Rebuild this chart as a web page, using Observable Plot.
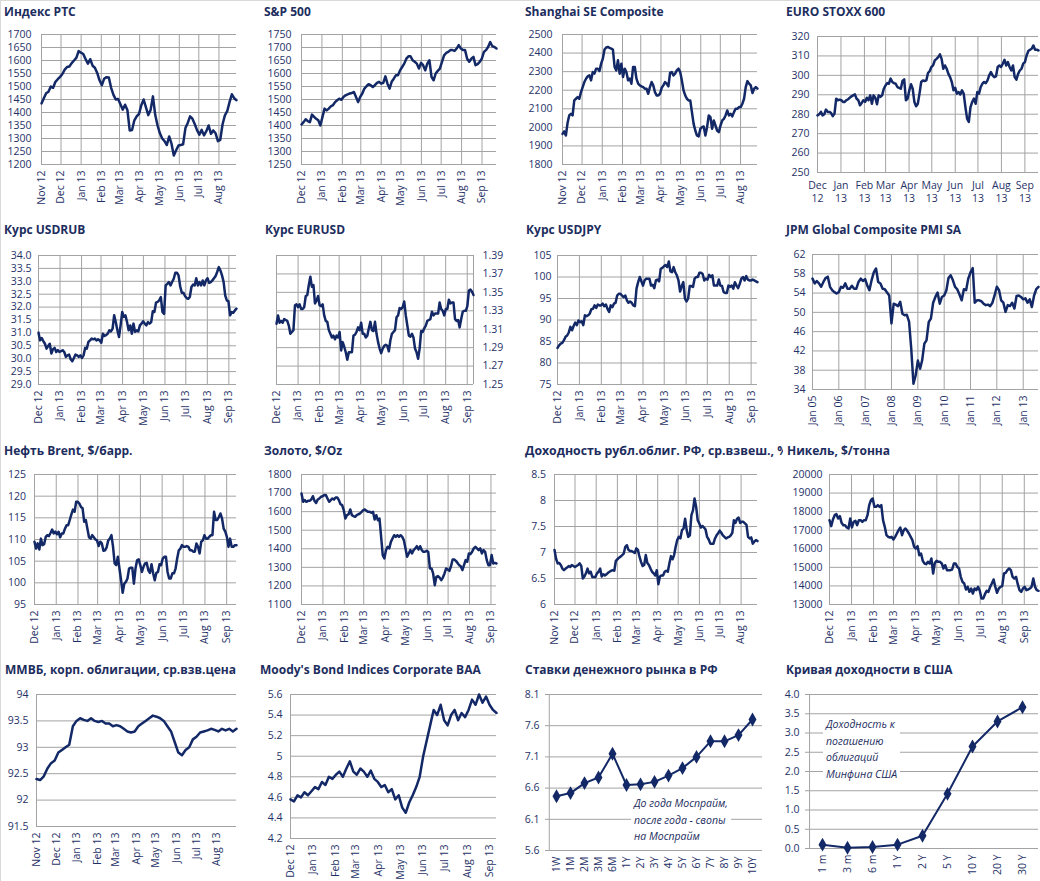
<!DOCTYPE html>
<html><head><meta charset="utf-8">
<script src="https://cdn.jsdelivr.net/npm/d3@7"></script>
<script src="https://cdn.jsdelivr.net/npm/@observablehq/plot@0.6"></script>
<style>
html,body{margin:0;padding:0;background:#fff;}
#root{position:relative;width:1040px;height:881px;overflow:hidden;background:#fff;box-shadow:inset 1px 1px 0 #d9d9d9;}
.title{position:absolute;font:bold 12px "Open Sans",sans-serif;line-height:16px;color:#1c2d5e;white-space:nowrap;background:#fff;}
.note{position:absolute;font:italic 10.5px "Open Sans",sans-serif;color:#1c2d5e;background:#fff;line-height:16.5px;white-space:nowrap;padding:0 3px;}
svg{overflow:visible;}
</style></head><body><div id="root"></div><script>
// ---------------- DATA ----------------
const rtsValues=[1435,1455,1474,1480,1500,1495,1518,1528,1537,1548,1565,1575,1577,1590,1600,1610,1636,1630,1625,1605,1588,1605,1580,1572,1552,1524,1505,1530,1536,1535,1495,1468,1450,1452,1432,1411,1430,1410,1331,1333,1370,1385,1395,1428,1450,1420,1390,1410,1462,1390,1350,1320,1300,1290,1275,1308,1280,1235,1255,1273,1275,1278,1340,1360,1385,1376,1356,1332,1315,1333,1312,1328,1350,1318,1331,1320,1290,1295,1355,1389,1405,1440,1470,1455,1447];
const spxValues=[1404,1413,1424,1417,1413,1442,1433,1426,1420,1400,1433,1465,1458,1465,1474,1478,1490,1497,1503,1499,1510,1516,1520,1523,1525,1529,1510,1490,1510,1523,1542,1551,1559,1555,1548,1555,1564,1568,1561,1564,1589,1561,1542,1568,1580,1593,1593,1612,1625,1638,1657,1666,1666,1651,1645,1638,1619,1641,1632,1612,1638,1651,1587,1574,1600,1610,1619,1645,1670,1679,1683,1690,1690,1687,1696,1709,1696,1690,1690,1657,1645,1657,1664,1632,1636,1645,1657,1683,1690,1702,1721,1705,1702,1696];
const shValues=[1965,1978,1956,2023,2064,2073,2064,2145,2154,2163,2154,2190,2217,2244,2262,2275,2280,2253,2298,2289,2316,2316,2304,2343,2370,2419,2430,2433,2428,2424,2419,2325,2307,2361,2289,2343,2271,2316,2298,2253,2262,2235,2325,2325,2262,2235,2226,2221,2217,2208,2208,2181,2217,2244,2226,2190,2172,2172,2181,2213,2226,2244,2235,2221,2293,2298,2280,2289,2307,2316,2298,2253,2199,2172,2154,2145,2145,2082,2019,1983,1956,1951,1992,2001,2005,1956,2001,2064,2055,1992,2037,2010,1983,1974,2010,2037,2046,2064,2091,2064,2073,2059,2082,2100,2100,2109,2109,2127,2154,2217,2249,2235,2226,2185,2208,2217,2208];
const stoxxValues=[279.4,280,281.2,279.4,280,282.4,281.2,281.2,280.6,279,280.3,288,287.2,287.5,287.2,286.3,286.3,287.2,287.7,288.5,289.2,289.7,290.2,288,287.2,284.6,285.8,287.2,286.3,288.5,287.2,289.7,285.4,289.7,288.5,285.1,289.7,288.9,289.7,293.1,294.8,296,295.7,298.3,296.6,296,295.7,294,293.6,293.1,297.1,297.9,287.2,288,292.3,295.4,293.1,286.3,284.1,285.4,290.6,296.6,297.4,297.1,297.4,301.2,302.2,304.3,305.1,307.7,308.5,309.4,310.8,308.5,303.4,305.1,303.4,300.8,299.1,296.6,292.3,293.6,290.6,291.4,290.2,292.3,290.6,283.7,277.7,276,283.7,286.3,288,285.4,291.4,290.6,294,295.7,296.6,296,297.4,300,301.7,300,299.1,299.5,304.3,305.1,304.3,306,308,305.1,306.8,304.3,302.5,305.1,299.1,297.8,300.8,302.5,303.4,306,306.8,310.2,312.5,313.2,313.7,315.4,313.2,313.2,312.8];
const usdrubValues=[31.01,30.71,30.80,30.68,30.58,30.39,30.49,30.58,30.20,30.37,30.42,30.26,30.33,30.26,30.29,30.33,30.26,30.07,30.13,30.16,29.98,29.90,30.03,30.16,30.13,30.07,30.13,30.03,30.13,30.42,30.39,30.65,30.71,30.78,30.75,30.78,30.71,30.75,30.71,30.62,30.97,30.88,30.91,30.97,31.10,31.06,31.16,31.68,31.42,31.10,30.84,31.29,31.81,31.62,31.68,31.42,31.10,31.29,30.97,31.36,31.04,31.10,31.06,31.29,31.36,31.45,31.36,31.29,31.42,31.36,31.42,31.84,31.81,32.17,32.20,32.26,32.39,31.81,31.74,32.84,32.90,32.97,32.84,32.97,33.10,33.33,33.33,33.23,32.81,32.56,32.56,32.43,32.35,32.32,32.39,32.78,32.87,32.84,33.12,32.84,32.97,32.84,33.03,32.84,33.03,33.12,32.94,32.97,33.03,33.12,33.20,33.36,33.55,33.42,33.23,32.97,32.45,32.26,32.22,31.68,31.81,31.78,31.87,31.94];
const eurusdValues=[1.316,1.325,1.317,1.319,1.317,1.321,1.320,1.319,1.314,1.305,1.307,1.309,1.336,1.337,1.334,1.337,1.332,1.332,1.334,1.346,1.347,1.358,1.367,1.356,1.358,1.338,1.341,1.346,1.336,1.335,1.337,1.325,1.319,1.318,1.309,1.305,1.301,1.303,1.299,1.303,1.301,1.307,1.287,1.296,1.291,1.285,1.277,1.285,1.285,1.285,1.303,1.304,1.307,1.312,1.309,1.317,1.305,1.305,1.301,1.303,1.311,1.318,1.309,1.308,1.318,1.305,1.296,1.289,1.284,1.289,1.292,1.293,1.292,1.286,1.298,1.305,1.307,1.309,1.323,1.325,1.333,1.332,1.334,1.340,1.325,1.314,1.303,1.302,1.305,1.301,1.289,1.285,1.278,1.289,1.308,1.307,1.311,1.314,1.319,1.320,1.321,1.329,1.325,1.327,1.327,1.327,1.339,1.332,1.330,1.325,1.332,1.332,1.342,1.338,1.339,1.339,1.321,1.319,1.320,1.312,1.321,1.329,1.330,1.330,1.335,1.352,1.353,1.351,1.347];
const usdjpyValues=[83.5,84.1,84.5,84.7,85.3,86.1,86.4,87.1,88.4,87.6,88.6,89.4,88.8,89.9,89.5,89.7,88.8,91.1,90.9,91.1,91.5,92.5,92.6,93.4,92.8,93.6,93.4,93.4,93.8,93.2,93.6,92.6,91.9,93.4,93.0,93.8,94.0,95.7,96.1,96.1,95.7,95.3,95.7,94.6,94.0,94.3,94.0,93.4,93.2,97.3,98.8,100.0,99.0,98.0,99.2,99.6,99.6,99.6,98.0,98.2,97.4,99.2,99.4,99.0,101.9,102.1,102.5,102.8,102.3,103.6,101.3,101.1,102.3,101.1,100.4,99.2,96.6,97.9,98.8,95.0,94.3,95.0,97.9,97.9,97.7,99.6,100.0,100.0,101.0,101.0,100.7,99.2,99.6,99.4,100.5,100.0,100.4,98.0,98.0,98.0,99.4,98.0,97.9,96.5,96.3,96.3,98.0,97.7,98.0,97.3,98.8,98.0,97.4,98.4,99.6,100.0,99.2,100.2,99.4,99.2,99.2,99.4,99.2,99.0,98.8];
const pmiValues=[57.0,56.0,56.5,56.0,55.3,56.3,57.1,57.4,55.3,54.6,54.2,53.9,
54.2,55.3,55.1,56.0,54.9,54.9,55.5,54.9,54.9,56.3,57.0,56.5,
56.9,55.5,54.6,56.7,58.3,59.1,56.3,56.0,54.9,54.8,54.1,53.5,
47.7,51.8,51.6,51.3,52.2,49.7,49.4,49.5,48.1,42.5,35.2,36.9,
40.0,38.3,40.0,43.5,44.2,48.0,48.7,52.0,53.2,54.1,51.8,53.2,
53.5,54.6,57.1,57.7,56.7,55.3,54.8,53.7,52.5,54.8,54.6,57.0,
58.3,59.2,52.0,52.5,52.5,52.3,51.8,51.5,51.6,51.3,52.0,53.5,
55.3,54.6,52.5,52.0,50.1,51.5,51.3,52.0,50.8,53.4,53.5,53.2,
52.7,52.9,52.0,52.7,51.1,53.5,54.8,55.3];
const brentValues=[109.5,107.9,109.1,107.7,110.2,108.7,108.9,110.6,111.0,110.8,111.5,112.3,111.4,111.8,111.2,111.8,110.5,111.4,111.4,112.5,113.3,113.3,114.5,115.8,116.9,116.4,118.7,118.7,118.3,117.5,117.2,114.1,114.5,112.5,110.5,110.2,111.0,110.5,110.0,109.8,108.5,109.5,109.1,107.4,107.5,108.2,109.8,110.2,111.0,108.3,104.5,104.1,106.0,103.3,100.6,97.7,99.8,100.2,101.0,103.3,103.5,103.5,99.8,103.3,105.2,105.4,104.1,102.5,103.7,104.5,104.6,102.9,102.3,104.3,102.2,100.6,102.3,102.5,104.3,104.1,105.6,106.0,106.0,102.5,101.0,101.0,102.2,102.2,103.3,105.6,107.5,107.9,108.7,108.3,108.3,108.5,108.3,107.5,107.5,107.2,107.2,109.1,108.3,106.8,109.5,109.8,111.0,110.2,110.2,110.6,111.0,111.0,116.4,114.5,114.5,115.2,116.0,114.8,112.5,111.8,110.6,108.3,110.2,108.3,108.3,108.7,108.7];
const goldValues=[1698,1653,1662,1653,1658,1658,1665,1683,1658,1647,1665,1671,1680,1683,1689,1689,1671,1653,1662,1671,1665,1676,1676,1662,1640,1635,1608,1563,1581,1586,1612,1581,1576,1572,1581,1586,1590,1599,1608,1612,1604,1599,1599,1594,1599,1558,1581,1554,1563,1464,1366,1348,1393,1410,1402,1437,1455,1473,1464,1473,1464,1473,1464,1446,1402,1357,1375,1393,1375,1393,1402,1414,1396,1414,1393,1384,1384,1389,1384,1294,1294,1267,1204,1249,1253,1245,1231,1245,1267,1294,1288,1281,1306,1342,1342,1335,1324,1312,1306,1285,1312,1339,1330,1375,1371,1384,1402,1410,1402,1393,1402,1375,1393,1384,1339,1312,1312,1366,1321,1324,1321];
const ofzValues=[7.05,6.88,6.79,6.80,6.76,6.69,6.66,6.69,6.71,6.74,6.72,6.76,6.74,6.72,6.74,6.76,6.79,6.74,6.50,6.54,6.60,6.69,6.60,6.63,6.53,6.53,6.53,6.60,6.63,6.69,6.54,6.58,6.56,6.58,6.61,6.63,6.65,6.66,6.65,6.84,6.87,6.90,6.92,6.95,6.98,7.11,7.14,7.05,7.03,7.03,7.01,6.99,7.08,7.05,6.92,6.82,6.74,6.76,6.95,6.80,6.76,6.69,6.63,6.60,6.56,6.66,6.39,6.54,6.56,6.56,6.63,6.65,6.63,6.79,6.93,6.87,6.95,7.11,7.24,7.30,7.27,7.43,7.46,7.65,7.43,7.30,7.33,7.72,7.81,8.04,7.88,7.62,7.56,7.48,7.51,7.48,7.44,7.30,7.25,7.17,7.17,7.17,7.27,7.33,7.37,7.42,7.38,7.33,7.30,7.27,7.29,7.30,7.33,7.38,7.62,7.57,7.65,7.67,7.57,7.59,7.59,7.56,7.53,7.30,7.27,7.29,7.17,7.21,7.24,7.22];
const nickelValues=[17541,17218,17577,17810,17864,17631,17756,17397,17272,17272,17146,17092,17631,17146,17451,17505,17272,17541,17541,17451,17541,17541,17810,18349,18618,18708,18259,18259,18349,18259,18349,17541,17182,16733,16643,16607,16643,16500,16643,16822,17002,17146,16733,17002,17092,16966,16822,16643,16464,16105,16015,16141,15656,15746,15351,15207,15171,15297,15207,15477,14669,15243,15351,15297,15297,15207,14938,15117,14848,14848,14848,14884,15207,15207,15028,14938,14489,14220,14130,13807,13951,13682,13861,13592,13861,13772,13951,13736,13323,13323,13556,13736,13682,13951,14130,14346,13951,13628,13861,13951,13987,14669,14705,14848,14938,14848,14489,14399,14489,14094,13772,13682,13861,13951,13772,13807,13861,13951,14399,13951,13772,13736];
const micexBondValues=[92.4,92.38,92.45,92.6,92.7,92.75,92.9,92.95,93.0,93.05,93.4,93.5,93.55,93.52,93.5,93.55,93.5,93.48,93.5,93.45,93.45,93.4,93.42,93.4,93.35,93.3,93.28,93.3,93.4,93.45,93.5,93.55,93.6,93.58,93.55,93.5,93.4,93.3,93.1,92.9,92.85,92.95,93.0,93.15,93.2,93.28,93.3,93.32,93.35,93.33,93.3,93.35,93.32,93.35,93.3,93.35];
const baaValues=[4.58,4.56,4.62,4.60,4.65,4.62,4.66,4.70,4.68,4.75,4.72,4.80,4.78,4.82,4.85,4.80,4.88,4.95,4.85,4.82,4.88,4.85,4.80,4.86,4.78,4.75,4.70,4.72,4.65,4.68,4.58,4.62,4.50,4.45,4.55,4.62,4.70,4.80,5.00,5.15,5.30,5.45,5.40,5.50,5.35,5.30,5.40,5.45,5.35,5.42,5.38,5.45,5.55,5.50,5.60,5.52,5.58,5.50,5.45,5.42];
const mmTenors=["1W","1M","2M","3M","6M","1Y","2Y","3Y","4Y","5Y","6Y","7Y","8Y","9Y","10Y"];
const mmRates=[6.47,6.52,6.68,6.77,7.15,6.65,6.66,6.70,6.80,6.92,7.10,7.35,7.35,7.45,7.70];
const ustTenors=["1 m","3 m","6 m","1 Y","2 Y","5 Y","10 Y","20 Y","30 Y"];
const ustYields=[0.10,0.02,0.04,0.10,0.33,1.42,2.65,3.30,3.67];

// tick labels
const rtsTicks=d3.range(1200,1701,50), spxTicks=d3.range(1250,1751,50), shTicks=d3.range(1800,2501,100), stoxxTicks=d3.range(250,321,10);
const usdrubTicks=[29,29.5,30,30.5,31,31.5,32,32.5,33,33.5,34], eurusdTicks=[1.25,1.27,1.29,1.31,1.33,1.35,1.37,1.39], usdjpyTicks=[75,80,85,90,95,100,105];
const pmiTicks=[34,38,42,46,50,54,58,62], brentTicks=[95,100,105,110,115,120,125], goldTicks=d3.range(1100,1801,100);
const ofzTicks=[6,6.5,7,7.5,8,8.5], nickelTicks=d3.range(13000,20001,1000), micexTicks=[91.5,92,92.5,93,93.5,94];
const baaTicks=[4.2,4.4,4.6,4.8,5,5.2,5.4,5.6], mmTicks=[5.6,6.1,6.6,7.1,7.6,8.1], ustTicks=[0,0.5,1,1.5,2,2.5,3,3.5,4];

// ---------------- DRAWING ----------------
const NAVY="#132866", TXT="#1f3267", GRID="#a3a3a3", FONT="'Open Sans',sans-serif";
const root=document.getElementById("root");
const utc=s=>{const [y,m,d]=s.split("-").map(Number);return new Date(Date.UTC(y,m-1,d));};
function series(p){
  const a=utc(p.start), n=p.values.length;
  if(p.monthly) return p.values.map((v,i)=>({date:d3.utcMonth.offset(a,i),value:v}));
  const b=utc(p.end);
  return p.values.map((v,i)=>({date:new Date(+a+(b-a)*i/(n-1)),value:v}));
}
function place(el,x,y){el.style.position="absolute";el.style.left=x+"px";el.style.top=y+"px";root.appendChild(el);}
function addTitle(text,x,y,extra){const d=document.createElement("div");d.className="title";d.textContent=text;d.style.left=x+"px";d.style.top=y+"px";if(extra)Object.assign(d.style,extra);root.appendChild(d);}
function addNote(lines,x,y){const d=document.createElement("div");d.className="note";d.innerHTML=lines.join("<br>");d.style.left=x+"px";d.style.top=y+"px";root.appendChild(d);}

function tsPanel(p){
  const data=series(p);
  const x0=utc(p.start), x1=p.monthly?d3.utcMonth.offset(x0,p.values.length-1):utc(p.end);
  const ticks=(p.yearly?d3.utcYear:d3.utcMonth).range(x0,new Date(+x1+1));
  const fmt=p.twoLine?(d=>d3.utcFormat("%b")(d)+"\n"+d3.utcFormat("%y")(d)):d3.utcFormat("%b %y");
  const H=p.h||215;
  const marks=[
    Plot.gridY(p.yTicks,{stroke:GRID,strokeOpacity:1,strokeWidth:1}),
    p.grid===false?null:Plot.gridX(ticks,{stroke:GRID,strokeOpacity:1,strokeWidth:1}),
    p.grid===false?Plot.ruleX([x0],{stroke:GRID}):null,
    p.grid===false?Plot.ruleY([p.yDomain[0]],{stroke:GRID}):null,
    p.yAnchor==="right"?Plot.ruleX([x1],{stroke:GRID}):null,
    Plot.lineY(data,{x:"date",y:"value",stroke:NAVY,strokeWidth:2.5,strokeLinejoin:"round"}),
    Plot.axisY(p.yTicks,{anchor:p.yAnchor||"left",tickSize:0,tickPadding:p.yPad,tickFormat:p.yFormat||(d=>String(d)),fontSize:10.5,fill:TXT,label:null}),
    p.twoLine
      ?Plot.axisX(ticks,{tickSize:0,tickPadding:7,tickFormat:fmt,fontSize:10.5,fill:TXT,label:null,lineHeight:1.25})
      :Plot.axisX(ticks,{tickRotate:-90,tickSize:0,tickPadding:6,tickFormat:fmt,fontSize:10.5,fill:TXT,label:null})
  ].filter(Boolean);
  const svg=Plot.plot({width:260,height:H,marginLeft:p.m[0],marginRight:p.m[1],marginTop:p.m[2],marginBottom:p.m[3],
    x:{type:"utc",domain:[x0,x1],label:null},y:{domain:p.yDomain,label:null},
    style:{background:"transparent",fontFamily:FONT,color:TXT,overflow:"visible"},marks});
  place(svg,p.x,p.y);
}
function catPanel(p){
  const data=p.cats.map((c,i)=>({cat:c,value:p.values[i]}));
  const H=p.h||226;
  const marks=[
    Plot.gridY(p.yTicks,{stroke:GRID,strokeOpacity:1}),
    Plot.ruleX([p.cats[0]],{stroke:GRID,dx:-p.band/2}),
    Plot.lineY(data,{x:"cat",y:"value",stroke:NAVY,strokeWidth:2}),
    Plot.dot(data,{x:"cat",y:"value",symbol:"diamond",r:4.2,fill:NAVY}),
    Plot.axisY(p.yTicks,{tickSize:0,tickPadding:p.yPad,tickFormat:p.yFormat,fontSize:10.5,fill:TXT,label:null}),
    Plot.axisX(p.cats,{tickRotate:-90,tickSize:0,tickPadding:6,fontSize:10.5,fill:TXT,label:null})
  ];
  const svg=Plot.plot({width:260,height:H,marginLeft:p.m[0],marginRight:p.m[1],marginTop:p.m[2],marginBottom:p.m[3],
    x:{type:"point",domain:p.cats,padding:0.5,label:null},y:{domain:p.yDomain,label:null},
    style:{background:"transparent",fontFamily:FONT,color:TXT,overflow:"visible"},marks});
  place(svg,p.x,p.y);
}

// Row 1
tsPanel({x:0,y:0,start:"2012-11-01",end:"2013-08-28",values:rtsValues,yDomain:[1200,1700],yTicks:rtsTicks,m:[41,24,34,51],yPad:10});
tsPanel({x:260,y:0,start:"2012-12-01",end:"2013-09-23",values:spxValues,yDomain:[1250,1750],yTicks:spxTicks,m:[41,24,34,51],yPad:10});
tsPanel({x:520,y:0,start:"2012-11-01",end:"2013-08-27",values:shValues,yDomain:[1800,2500],yTicks:shTicks,m:[42,23,34,51],yPad:10});
tsPanel({x:780,y:0,start:"2012-12-01",end:"2013-09-19",values:stoxxValues,yDomain:[250,320],yTicks:stoxxTicks,m:[37,2,36,43],yPad:8,twoLine:true});
// Row 2
tsPanel({x:0,y:215,start:"2012-12-01",end:"2013-09-12",values:usdrubValues,yDomain:[29,34],yTicks:usdrubTicks,yFormat:d3.format(".1f"),m:[38,24,40,46],yPad:7});
tsPanel({x:260,y:215,start:"2012-12-01",end:"2013-09-10",values:eurusdValues,yDomain:[1.25,1.39],yTicks:eurusdTicks,yFormat:d3.format(".2f"),yAnchor:"right",m:[16,47,40,46],yPad:9});
tsPanel({x:520,y:215,start:"2012-12-01",end:"2013-09-10",values:usdjpyValues,yDomain:[75,105],yTicks:usdjpyTicks,m:[37,23,40,46],yPad:6});
tsPanel({x:780,y:215,start:"2005-01-01",monthly:true,yearly:true,values:pmiValues,yDomain:[34,62],yTicks:pmiTicks,m:[32,2,39,41],yPad:7});
// Row 3
tsPanel({x:0,y:440,start:"2012-12-01",end:"2013-09-15",values:brentValues,yDomain:[95,125],yTicks:brentTicks,m:[34,24,34,51],yPad:8.5});
tsPanel({x:260,y:440,start:"2012-12-01",end:"2013-09-09",values:goldValues,yDomain:[1100,1800],yTicks:goldTicks,m:[41,24,34,51],yPad:10});
tsPanel({x:520,y:440,start:"2012-11-01",end:"2013-08-25",values:ofzValues,yDomain:[6,8.5],yTicks:ofzTicks,m:[34,23,34,51],yPad:8.5});
tsPanel({x:780,y:440,start:"2012-12-01",end:"2013-09-21",values:nickelValues,yDomain:[13000,20000],yTicks:nickelTicks,m:[49,2,34,51],yPad:7});
// Row 4
tsPanel({x:0,y:655,h:226,start:"2012-11-01",end:"2013-08-31",values:micexBondValues,yDomain:[91.5,94],yTicks:micexTicks,m:[36,24,39,55],yPad:8,grid:false});
tsPanel({x:260,y:655,h:226,start:"2012-12-01",end:"2013-09-10",values:baaValues,yDomain:[4.2,5.6],yTicks:baaTicks,m:[30,24,39,43],yPad:8,grid:false});
catPanel({x:520,y:655,cats:mmTenors,values:mmRates,yDomain:[5.6,8.1],yTicks:mmTicks,yFormat:d3.format(".1f"),m:[25,18,39,31],yPad:6,band:217/15});
catPanel({x:780,y:655,cats:ustTenors,values:ustYields,yDomain:[0,4],yTicks:ustTicks,yFormat:d3.format(".1f"),m:[25,2,39,33],yPad:6,band:233/9});

// Titles
addTitle("Индекс РТС",4,4);
addTitle("S&P 500",264,4);
addTitle("Shanghai SE Composite",525,4);
addTitle("EURO STOXX 600",786,4);
addTitle("Курс USDRUB",4,222);
addTitle("Курс EURUSD",265,222);
addTitle("Курс USDJPY",526,222);
addTitle("JPM Global Composite PMI SA",786,222);
addTitle("Нефть Brent, $/барр.",4,443);
addTitle("Золото, $/Oz",264,443);
addTitle("Доходность рубл.облиг. РФ, ср.взвеш., %",525,443,{fontSize:"12.3px"});
addTitle("Никель, $/тонна",783,443,{paddingLeft:"4px",width:"253px"});
addTitle("ММВБ, корп. облигации, ср.взв.цена",5,662);
addTitle("Moody's Bond Indices Corporate BAA",260,662);
addTitle("Ставки денежного рынка в РФ",525,662);
addTitle("Кривая доходности в США",786,662);

addNote(["До года Моспрайм,","после года - свопы","на Моспрайм"],631,795);
addNote(["Доходность к","погашению","облигаций","Минфина США"],823,716);
</script></body></html>
